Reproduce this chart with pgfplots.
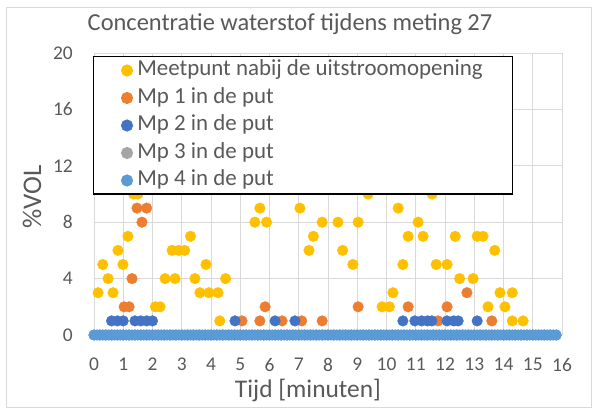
\documentclass[border=0pt]{standalone}
\usepackage{pgfplots}
\pgfplotsset{compat=1.18}
\usepackage{fontspec}
\setmainfont{Carlito}
\definecolor{cYel}{HTML}{FFC000}
\definecolor{cOra}{HTML}{ED7D31}
\definecolor{cBlu}{HTML}{4472C4}
\definecolor{cGry}{HTML}{A5A5A5}
\definecolor{cLbl}{HTML}{5B9BD5}
\definecolor{cTxt}{HTML}{595959}
\definecolor{cGrid}{HTML}{D9D9D9}
\begin{document}
\begin{tikzpicture}
\path[use as bounding box] (-94bp,-75bp) rectangle (502bp,335bp);
\draw[cGrid,line width=0.75bp] (-88bp,-72bp) rectangle (497bp,328bp);
\begin{axis}[
  scale only axis, width=468bp, height=282bp,
  xmin=0, xmax=16, ymin=0, ymax=20,
  xtick={0,1,...,16}, ytick={0,4,...,20},
  grid=major, grid style={cGrid, line width=0.75bp},
  axis line style={draw=none}, major tick length=0pt,
  clip=false,
  tick label style={font=\fontsize{19.5}{19.5}\selectfont, text=cTxt, inner sep=0pt},
  /pgf/number format/assume math mode=true,
  yticklabel style={xshift=-21bp},
  xticklabel style={yshift=-23bp},
  title={Concentratie waterstof tijdens meting 27},
  title style={font=\fontsize{24.5}{24.5}\selectfont, text=cTxt, at={(axis description cs:0.5,1)}, anchor=center, yshift=23bp, xshift=-38bp},
  xlabel={Tijd [minuten]},
  xlabel style={font=\fontsize{25.5}{25.5}\selectfont, text=cTxt, at={(axis description cs:0.5,0)}, anchor=center, yshift=-55bp, xshift=-20bp},
  ylabel={\%VOL},
  ylabel style={font=\fontsize{27}{27}\selectfont, text=cTxt, at={(axis description cs:-0.1325,0.49)}, anchor=center},
  legend cell align=left,
  legend style={at={(axis description cs:0,1)}, anchor=north west, xshift=-1bp, yshift=-3bp,
    draw=black, line width=1.5bp, inner xsep=28bp, inner ysep=0bp, row sep=0bp, column sep=3bp,
    font=\fontsize{23}{23}\selectfont, text=cTxt,
    nodes={text height=16bp, text depth=5bp, inner ysep=3.25bp, line width=0.4bp}},
  every axis plot/.append style={only marks, mark=*, mark size=5.3bp},
]
\addplot[cYel, mark options={draw=cYel, fill=cYel}] coordinates {
(0.14,3)(0.3,5)(0.48,4)(0.65,3)(0.82,6)(0.99,5)(1.16,7)(1.35,10)(1.5,10)
(2.1,2)(2.26,2)(2.43,4)(2.67,6)(2.77,4)(2.9,6)(3.1,6)(3.3,7)(3.45,4)
(3.62,3)(3.83,5)(3.93,3)(4.24,3)(4.5,4)(4.3,1)
(5.5,8)(5.67,9)(5.9,8)(7.04,9)(7.35,6)(7.5,7)(7.8,8)
(8.34,8)(8.5,6)(8.85,5)(9.03,8)(9.37,10)(9.85,2)(10.1,2)(10.22,3)
(10.4,9)(10.56,5)(10.74,7)(11.08,8)(11.25,7)(11.56,10)(11.7,5)(12.07,5)
(12.35,7)(12.5,4)(12.96,4)(13.1,7)(13.3,7)(13.47,2)(13.7,6)(13.88,3)
(14.05,2)(14.3,3)(14.3,1)(14.67,1)
};
\addlegendentry{Meetpunt nabij de uitstroomopening}
\addplot[cOra, mark options={draw=cOra, fill=cOra}] coordinates {
(1.03,2)(1.2,2)(1.3,4)(1.47,9)(1.8,9)(1.64,8)
(5.06,1)(5.67,1)(5.85,2)(6.43,1)(7.1,1)(7.8,1)
(9.03,2)(10.74,2)(11.76,1)(12.07,2)(12.75,3)(13.6,1)
};
\addlegendentry{Mp 1 in de put}
\addplot[cBlu, mark options={draw=cBlu, fill=cBlu}] coordinates {
(0.6,1)(0.8,1)(1.0,1)(1.4,1)(1.6,1)(1.8,1)(2.0,1)
(4.82,1)(6.19,1)(6.87,1)
(10.56,1)(10.97,1)(11.2,1)(11.4,1)(11.55,1)
(12.07,1)(12.3,1)(12.45,1)(13.1,1)
};
\addlegendentry{Mp 2 in de put}
\addplot[cGry, mark options={draw=cGry, fill=cGry}] coordinates {
(0,0)(0.2,0)(0.4,0)(0.6,0)(0.8,0)(1,0)(1.2,0)(1.4,0)(1.6,0)(1.8,0)
(2,0)(2.2,0)(2.4,0)(2.6,0)(2.8,0)(3,0)(3.2,0)(3.4,0)(3.6,0)(3.8,0)
(4,0)(4.2,0)(4.4,0)(4.6,0)(4.8,0)(5,0)(5.2,0)(5.4,0)(5.6,0)(5.8,0)
(6,0)(6.2,0)(6.4,0)(6.6,0)(6.8,0)(7,0)(7.2,0)(7.4,0)(7.6,0)(7.8,0)
(8,0)(8.2,0)(8.4,0)(8.6,0)(8.8,0)(9,0)(9.2,0)(9.4,0)(9.6,0)(9.8,0)
(10,0)(10.2,0)(10.4,0)(10.6,0)(10.8,0)(11,0)(11.2,0)(11.4,0)(11.6,0)(11.8,0)
(12,0)(12.2,0)(12.4,0)(12.6,0)(12.8,0)(13,0)(13.2,0)(13.4,0)(13.6,0)(13.8,0)
(14,0)(14.2,0)(14.4,0)(14.6,0)(14.8,0)(15,0)(15.2,0)(15.4,0)(15.6,0)(15.8,0)
};
\addlegendentry{Mp 3 in de put}
\addplot[cLbl, mark options={draw=cLbl, fill=cLbl}] coordinates {
(0,0)(0.1,0)(0.2,0)(0.3,0)(0.4,0)(0.5,0)(0.6,0)(0.7,0)(0.8,0)(0.9,0)
(1,0)(1.1,0)(1.2,0)(1.3,0)(1.4,0)(1.5,0)(1.6,0)(1.7,0)(1.8,0)(1.9,0)
(2,0)(2.1,0)(2.2,0)(2.3,0)(2.4,0)(2.5,0)(2.6,0)(2.7,0)(2.8,0)(2.9,0)
(3,0)(3.1,0)(3.2,0)(3.3,0)(3.4,0)(3.5,0)(3.6,0)(3.7,0)(3.8,0)(3.9,0)
(4,0)(4.1,0)(4.2,0)(4.3,0)(4.4,0)(4.5,0)(4.6,0)(4.7,0)(4.8,0)(4.9,0)
(5,0)(5.1,0)(5.2,0)(5.3,0)(5.4,0)(5.5,0)(5.6,0)(5.7,0)(5.8,0)(5.9,0)
(6,0)(6.1,0)(6.2,0)(6.3,0)(6.4,0)(6.5,0)(6.6,0)(6.7,0)(6.8,0)(6.9,0)
(7,0)(7.1,0)(7.2,0)(7.3,0)(7.4,0)(7.5,0)(7.6,0)(7.7,0)(7.8,0)(7.9,0)
(8,0)(8.1,0)(8.2,0)(8.3,0)(8.4,0)(8.5,0)(8.6,0)(8.7,0)(8.8,0)(8.9,0)
(9,0)(9.1,0)(9.2,0)(9.3,0)(9.4,0)(9.5,0)(9.6,0)(9.7,0)(9.8,0)(9.9,0)
(10,0)(10.1,0)(10.2,0)(10.3,0)(10.4,0)(10.5,0)(10.6,0)(10.7,0)(10.8,0)(10.9,0)
(11,0)(11.1,0)(11.2,0)(11.3,0)(11.4,0)(11.5,0)(11.6,0)(11.7,0)(11.8,0)(11.9,0)
(12,0)(12.1,0)(12.2,0)(12.3,0)(12.4,0)(12.5,0)(12.6,0)(12.7,0)(12.8,0)(12.9,0)
(13,0)(13.1,0)(13.2,0)(13.3,0)(13.4,0)(13.5,0)(13.6,0)(13.7,0)(13.8,0)(13.9,0)
(14,0)(14.1,0)(14.2,0)(14.3,0)(14.4,0)(14.5,0)(14.6,0)(14.7,0)(14.8,0)(14.9,0)
(15,0)(15.1,0)(15.2,0)(15.3,0)(15.4,0)(15.5,0)(15.6,0)(15.7,0)(15.8,0)
};
\addlegendentry{Mp 4 in de put}
\end{axis}
\end{tikzpicture}
\end{document}
